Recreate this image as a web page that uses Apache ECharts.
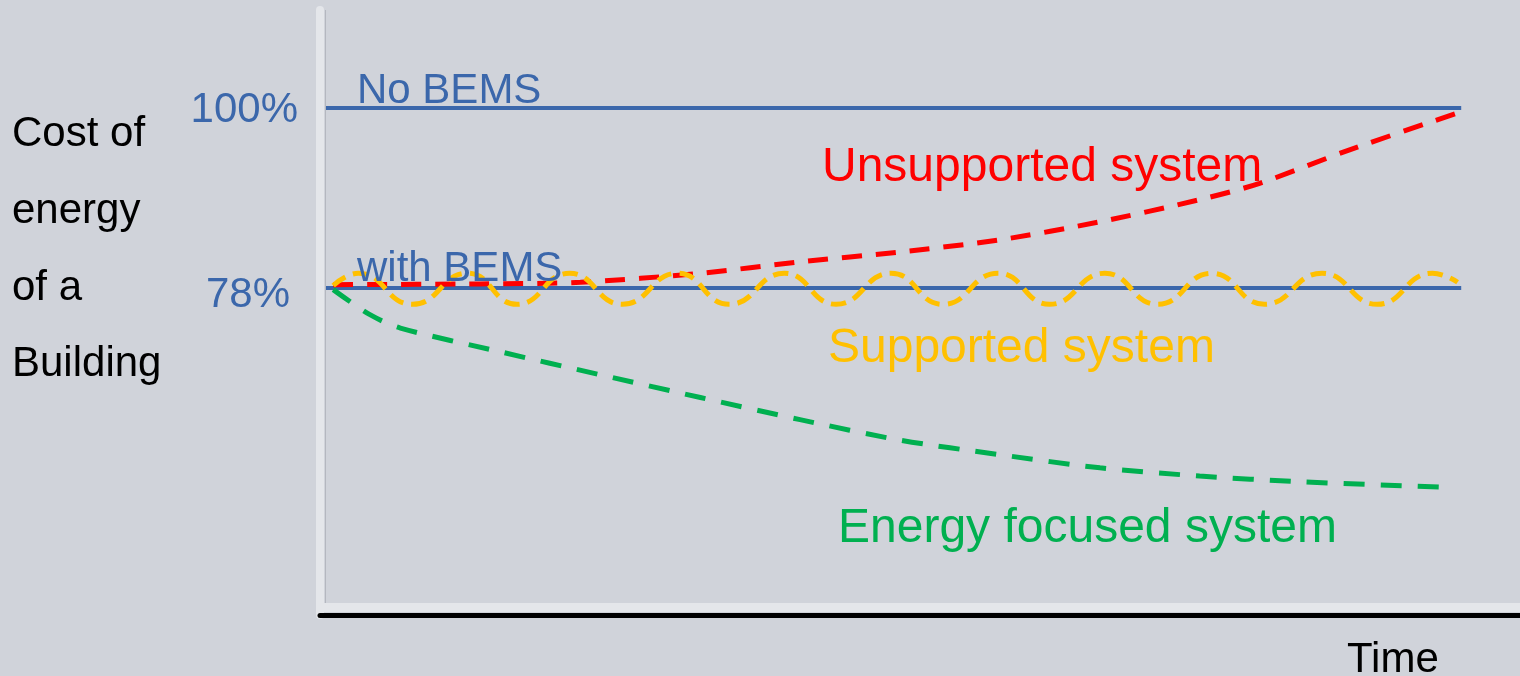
<!DOCTYPE html>
<html>
<head>
<meta charset="utf-8">
<title>Cost of energy of a building</title>
<script src="https://cdn.jsdelivr.net/npm/echarts@6/dist/echarts.min.js"></script>
<style>
  html, body { margin: 0; padding: 0; background: #d0d3da; }
  #chart { width: 1520px; height: 676px; }
</style>
</head>
<body>
<div id="chart"></div>
<script>
// time runs 0..100, cost in % of the no-BEMS cost
const baseTime = [0.5, 95.1]
const noBemsCost = [100, 100]
const withBemsCost = [78, 78]

const unsupportedTime = [1.1, 13.3, 21.7, 31.7, 40, 48.3, 56.7, 65, 73.3, 78.3, 85.8, 95]
const unsupportedCost = [78.4, 78.5, 78.7, 79.8, 81.2, 82.4, 83.9, 86.1, 88.8, 90.8, 94.9, 99.5]

const supportedTime = [1.1, 3.2, 7.7, 12.3, 16.4, 20.8, 25.2, 29.8, 34.1, 38.7, 43, 47.6,
    51.9, 56.5, 60.8, 65.4, 69.8, 74.3, 78.7, 83.5, 88.1, 92.7, 94.8]
const supportedCost = [78.3, 79.8, 76.0, 79.8, 76.0, 79.8, 76.0, 79.8, 76.0, 79.8, 76.0, 79.8,
    76.0, 79.8, 76.0, 79.8, 76.0, 79.8, 76.0, 79.8, 76.0, 79.8, 78.7]

const focusedTime = [1.1, 4.2, 6.7, 15, 23.3, 31.7, 40, 48.3, 56.7, 65, 73.3, 81.7, 94.2]
const focusedCost = [77.8, 74.7, 73.1, 70.2, 67.4, 64.6, 61.9, 59.4, 57.6, 56.0, 55.0, 54.3, 53.6]

const yTickValues = [100, 78]
const yTickLabels = ['100%', '78%']

const FONT = '"Liberation Sans", Arial, sans-serif'
const BLUE = '#3b67ab'

const zip = (xs, ys) => xs.map((x, i) => [x, ys[i]])

let myChart = echarts.init(document.getElementById('chart'))

const dashed = (name, xs, ys, color, dash, width, smooth) => ({
    name: name,
    type: 'line',
    data: zip(xs, ys),
    symbol: 'none',
    smooth: smooth,
    lineStyle: { color: color, width: width, type: dash },
    z: 3
})

const option = {
    backgroundColor: '#d0d3da',
    animation: false,
    grid: {
        left: 320,
        right: 0,
        top: 10,
        height: 605
    },
    xAxis: {
        type: 'value',
        min: 0,
        max: 100,
        // black time axis
        axisLine: { show: true, onZero: false, lineStyle: { color: '#000', width: 5 } },
        axisTick: { show: false },
        axisLabel: { show: false },
        splitLine: { show: false }
    },
    yAxis: {
        type: 'value',
        min: 38,
        max: 112,
        // light vertical bar
        axisLine: { show: true, lineStyle: { color: '#e4e6ea', width: 8 } },
        axisTick: { show: false },
        axisLabel: { show: false },
        splitLine: { show: false }
    },
    series: [
        {
            name: 'No BEMS',
            type: 'line',
            data: zip(baseTime, noBemsCost),
            symbol: 'none',
            lineStyle: { color: BLUE, width: 4 },
            z: 2
        },
        {
            name: 'with BEMS',
            type: 'line',
            data: zip(baseTime, withBemsCost),
            symbol: 'none',
            lineStyle: { color: BLUE, width: 4 },
            z: 2
        },
        dashed('Energy focused system', focusedTime, focusedCost, '#00b050', [21, 16], 5, 0.3),
        dashed('Unsupported system', unsupportedTime, unsupportedCost, '#ff0000', [20, 14], 5, 0.3),
        dashed('Supported system', supportedTime, supportedCost, '#ffc000', [15, 8], 5, true)
    ]
}

myChart.setOption(option)

// text placed after the scales exist
const txt = (text, x, y, color, size, align) => ({
    type: 'text',
    x: x,
    y: y,
    z: 10,
    style: {
        text: text,
        fill: color,
        font: size + 'px ' + FONT,
        align: align || 'left',
        verticalAlign: 'middle'
    }
})

const tickRight = [298, 290]
const tickDy = [2, 7]
const tickTexts = yTickValues.map((v, i) => {
    const py = myChart.convertToPixel({ yAxisIndex: 0 }, v)
    return txt(yTickLabels[i], tickRight[i], py + tickDy[i], BLUE, 42, 'right')
})

myChart.setOption({
    graphic: [
        // light band above the time axis and shadow of the vertical bar
        { type: 'rect', shape: { x: 317, y: 603, width: 1203, height: 9 }, style: { fill: '#e4e6ea' }, z: 0 },
        { type: 'rect', shape: { x: 325, y: 10, width: 1, height: 593 }, style: { fill: '#b4b7bf' }, z: 0 },
        { type: 'rect', shape: { x: 317, y: 609, width: 4, height: 4 }, style: { fill: '#000' }, z: 0 },

        txt('Cost of', 12, 134, '#000', 42),
        txt('energy', 12, 211, '#000', 42),
        txt('of a', 12, 288, '#000', 42),
        txt('Building', 12, 364, '#000', 42),
        ...tickTexts,
        txt('No BEMS', 357, 91, BLUE, 42),
        txt('with BEMS', 357, 269, BLUE, 42),
        txt('Unsupported system', 822, 168, '#ff0000', 48),
        txt('Supported system', 828, 349, '#ffc000', 48),
        txt('Energy focused system', 838, 529, '#00b050', 48),
        txt('Time', 1347, 660, '#000', 42)
    ]
})
</script>
</body>
</html>
